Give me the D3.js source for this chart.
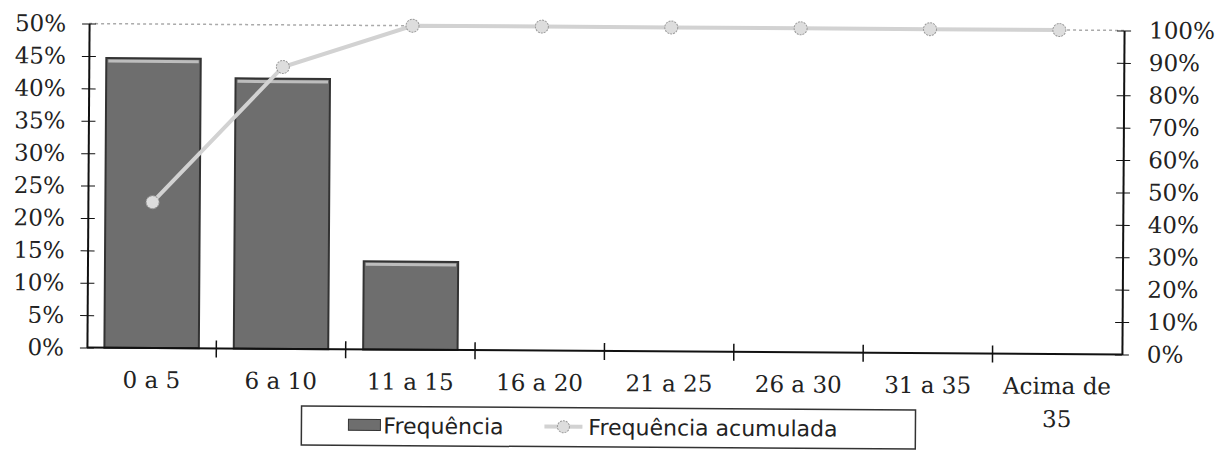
<!DOCTYPE html>
<meta charset="utf-8">
<style>
body { margin: 0; background: #fff; }
.axis text { font-family: "DejaVu Serif", serif; font-size: 23px; fill: #222; }
.axis line, .axis path { stroke: #111; }
.legend text { font-family: "DejaVu Sans", sans-serif; font-size: 22px; fill: #222; }
</style>
<script src="https://d3js.org/d3.v7.min.js"></script>
<svg id="chart" width="1228" height="451"></svg>
<script>

var categories = ["0 a 5", "6 a 10", "11 a 15", "16 a 20", "21 a 25", "26 a 30", "31 a 35", "Acima de 35"];
var frequencia = [0.447, 0.417, 0.136, 0, 0, 0, 0, 0];
var acumulada = [0.45, 0.87, 1.0, 1.0, 1.0, 1.0, 1.0, 1.0];
var leftTicks = [0, 0.05, 0.10, 0.15, 0.20, 0.25, 0.30, 0.35, 0.40, 0.45, 0.50];
var rightTicks = [0, 0.1, 0.2, 0.3, 0.4, 0.5, 0.6, 0.7, 0.8, 0.9, 1.0];

var svg = d3.select("#chart");
var pLeft = 88, pRight = 1123, pTop = 27, pBottom = 351;

// the scan is slightly tilted, right side lower
var g = svg.append("g").attr("transform", "rotate(0.38, 605, 189)");

var x = d3.scaleBand().domain(categories).range([pLeft, pRight]).padding(0);
var yL = d3.scaleLinear().domain([0, 0.5]).range([pBottom, pTop]);
var yR = d3.scaleLinear().domain([0, 1]).range([pBottom, pTop]);
var pct = d3.format(".0%");

// faint top border
g.append("line")
    .attr("x1", pLeft).attr("x2", pRight)
    .attr("y1", pTop).attr("y2", pTop)
    .attr("stroke", "#aaa").attr("stroke-width", 1.5)
    .attr("stroke-dasharray", "3,3");

// bars
var bw = x.bandwidth() * 0.73;
var barData = categories.map(function(c, i) { return {c: c, v: frequencia[i]}; })
    .filter(function(d) { return d.v > 0; });

g.append("g").selectAll("rect")
  .data(barData)
  .enter().append("rect")
    .attr("x", function(d) { return x(d.c) + (x.bandwidth() - bw) / 2; })
    .attr("y", function(d) { return yL(d.v); })
    .attr("width", bw)
    .attr("height", function(d) { return pBottom - yL(d.v); })
    .attr("fill", "#6e6e6e")
    .attr("stroke", "#333")
    .attr("stroke-width", 2);

g.append("g").selectAll("line")
  .data(barData)
  .enter().append("line")
    .attr("x1", function(d) { return x(d.c) + (x.bandwidth() - bw) / 2 + 2; })
    .attr("x2", function(d) { return x(d.c) + (x.bandwidth() + bw) / 2 - 2; })
    .attr("y1", function(d) { return yL(d.v) + 3; })
    .attr("y2", function(d) { return yL(d.v) + 3; })
    .attr("stroke", "#bdbdbd").attr("stroke-width", 3);

// cumulative line
var line = d3.line()
    .x(function(d, i) { return x(categories[i]) + x.bandwidth() / 2; })
    .y(function(d) { return yR(d); });

g.append("path")
    .datum(acumulada)
    .attr("d", line)
    .attr("fill", "none")
    .attr("stroke", "#d2d2d2")
    .attr("stroke-width", 4);

g.append("g").selectAll("circle")
  .data(acumulada)
  .enter().append("circle")
    .attr("cx", function(d, i) { return x(categories[i]) + x.bandwidth() / 2; })
    .attr("cy", function(d) { return yR(d); })
    .attr("r", 6.5)
    .attr("fill", "#ddd")
    .attr("stroke", "#999")
    .attr("stroke-width", 1)
    .attr("stroke-dasharray", "2,1");

// left axis
var ax = g.append("g").attr("class", "axis")
    .attr("transform", "translate(" + pLeft + ",0)")
    .call(d3.axisLeft(yL).tickValues(leftTicks).tickFormat(pct).tickSize(7).tickSizeOuter(0));
ax.select(".domain").attr("stroke-width", 2);
ax.selectAll(".tick line").attr("x2", 7).attr("x1", -7);
ax.selectAll(".tick text").attr("x", -23);

// right axis
var ar = g.append("g").attr("class", "axis")
    .attr("transform", "translate(" + pRight + ",0)")
    .call(d3.axisRight(yR).tickValues(rightTicks).tickFormat(pct).tickSize(7).tickSizeOuter(0));
ar.select(".domain").attr("stroke-width", 2);
ar.selectAll(".tick line").attr("x1", -7).attr("x2", 7);
ar.selectAll(".tick text").attr("x", 25);

// x axis: line, boundary ticks, labels
g.append("line")
    .attr("x1", pLeft).attr("x2", pRight)
    .attr("y1", pBottom).attr("y2", pBottom)
    .attr("stroke", "#111").attr("stroke-width", 2);

g.append("g").selectAll("line")
  .data(categories.slice(1))
  .enter().append("line")
    .attr("x1", function(d) { return x(d); })
    .attr("x2", function(d) { return x(d); })
    .attr("y1", pBottom - 8).attr("y2", pBottom + 9)
    .attr("stroke", "#111").attr("stroke-width", 1.5);

var axb = g.append("g").attr("class", "axis")
    .attr("transform", "translate(0," + pBottom + ")")
    .call(d3.axisBottom(x).tickSize(0));
axb.select(".domain").remove();
axb.selectAll(".tick text").each(function(d) {
  var t = d3.select(this).text("").attr("y", 0).attr("dy", null);
  var parts = d === "Acima de 35" ? ["Acima de", "35"] : [d];
  parts.forEach(function(p, i) {
    t.append("tspan").attr("x", 0).attr("y", 40 + i * 33).text(p);
  });
});

// legend
var lg = g.append("g").attr("class", "legend");
lg.append("rect")
    .attr("x", 303).attr("y", 408).attr("width", 614).attr("height", 39)
    .attr("fill", "none").attr("stroke", "#333").attr("stroke-width", 1.5);
lg.append("rect")
    .attr("x", 350).attr("y", 421).attr("width", 32).attr("height", 11)
    .attr("fill", "#6e6e6e").attr("stroke", "#333");
lg.append("text").attr("x", 385).attr("y", 435).text("Frequência");
lg.append("line")
    .attr("x1", 546).attr("x2", 584).attr("y1", 427).attr("y2", 427)
    .attr("stroke", "#d2d2d2").attr("stroke-width", 4);
lg.append("circle")
    .attr("cx", 565).attr("cy", 427).attr("r", 6)
    .attr("fill", "#ddd").attr("stroke", "#999").attr("stroke-dasharray", "2,1");
lg.append("text").attr("x", 590).attr("y", 435).text("Frequência acumulada");

</script>
